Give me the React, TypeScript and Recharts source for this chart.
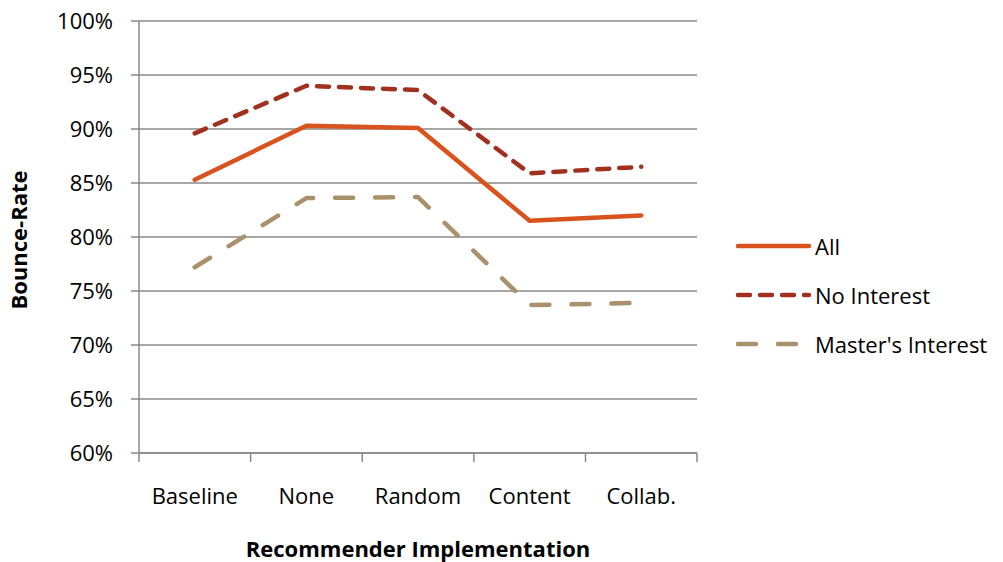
import React from "react";
import {
  LineChart,
  Line,
  XAxis,
  YAxis,
  CartesianGrid,
  Legend,
  Label,
} from "recharts";

const categories = ["Baseline", "None", "Random", "Content", "Collab."];
const allValues = [85.3, 90.3, 90.1, 81.5, 82.0];
const noInterestValues = [89.6, 94.0, 93.6, 85.9, 86.5];
const mastersValues = [77.2, 83.6, 83.7, 73.7, 73.9];
const yTicks = [60, 65, 70, 75, 80, 85, 90, 95, 100];

const data = categories.map((name, i) => ({
  name,
  all: allValues[i],
  noInterest: noInterestValues[i],
  masters: mastersValues[i],
}));

const FONT = "'Open Sans', 'Noto Sans', sans-serif";
const FS = 22;
const AXIS = "#888888";
const TICK_SIZE = 9;
const TICK_MARGIN = 27;
const HALF_BAND = 55.75;

const series = [
  { key: "all", name: "All", color: "#D9531E", dash: undefined },
  { key: "noInterest", name: "No Interest", color: "#A2301F", dash: "12 10" },
  { key: "masters", name: "Master's Interest", color: "#A8916B", dash: "18 22" },
];

function XTick(props: any) {
  const { x, y, payload, index } = props;
  const axisY = y - TICK_SIZE - TICK_MARGIN;
  const last = index === categories.length - 1;
  return (
    <g>
      <line x1={x - HALF_BAND} x2={x - HALF_BAND} y1={axisY} y2={axisY + TICK_SIZE} stroke={AXIS} strokeWidth={1.5} />
      {last && (
        <line x1={x + HALF_BAND} x2={x + HALF_BAND} y1={axisY} y2={axisY + TICK_SIZE} stroke={AXIS} strokeWidth={1.5} />
      )}
      <text x={x} y={y} dy="0.7em" textAnchor="middle" fill="#000" fontSize={FS}>
        {payload.value}
      </text>
    </g>
  );
}

function LegendBox() {
  return (
    <div style={{ fontFamily: FONT, fontSize: FS, color: "#000" }}>
      {series.map((s) => (
        <div key={s.key} style={{ display: "flex", alignItems: "center", height: 49 }}>
          <svg width={76} height={10} style={{ marginLeft: -2 }}>
            <line
              x1={2}
              x2={73}
              y1={5}
              y2={5}
              stroke={s.color}
              strokeWidth={4.5}
              strokeLinecap="round"
              strokeDasharray={s.dash}
            />
          </svg>
          <span style={{ marginLeft: 3 }}>{s.name}</span>
        </div>
      ))}
    </div>
  );
}

export default function App() {
  return (
    <div style={{ position: "absolute", left: 0, top: 0, fontFamily: FONT, background: "#fff" }}>
      <LineChart width={1003} height={562} data={data} margin={{ top: 21, right: 306, left: 0, bottom: 0 }}>
        <CartesianGrid vertical={false} stroke={AXIS} strokeWidth={1.5} />
        <XAxis
          dataKey="name"
          height={109}
          padding={{ left: HALF_BAND, right: HALF_BAND }}
          stroke={AXIS}
          strokeWidth={1.5}
          tickLine={false}
          tickSize={TICK_SIZE}
          tickMargin={TICK_MARGIN}
          tick={<XTick />}
          interval={0}
        >
          <Label
            value="Recommender Implementation"
            position="insideBottom"
            offset={5}
            style={{ fontWeight: "bold", fontSize: FS, fill: "#000" }}
          />
        </XAxis>
        <YAxis
          width={139}
          domain={[60, 100]}
          ticks={yTicks}
          tickFormatter={(v) => `${v}%`}
          stroke={AXIS}
          strokeWidth={1.5}
          tickSize={8}
          tickMargin={18}
          tick={{ fill: "#000", fontSize: FS }}
        >
          <Label
            content={(p: any) => {
              const vb = p.viewBox || { y: 21, height: 432 };
              const cy = vb.y + vb.height / 2 + 3;
              return (
                <text
                  x={18}
                  y={cy}
                  transform={`rotate(-90 18 ${cy})`}
                  textAnchor="middle"
                  dominantBaseline="central"
                  fontWeight="bold"
                  fontSize={FS}
                  fill="#000"
                >
                  Bounce-Rate
                </text>
              );
            }}
          />
        </YAxis>
        <Legend
          layout="vertical"
          align="center"
          verticalAlign="middle"
          content={<LegendBox />}
          wrapperStyle={{ left: 738, top: 221, width: 265 }}
        />
        {series.map((s) => (
          <Line
            key={s.key}
            type="linear"
            dataKey={s.key}
            name={s.name}
            stroke={s.color}
            strokeWidth={4.5}
            strokeDasharray={s.dash}
            strokeLinecap="round"
            strokeLinejoin="round"
            dot={false}
            activeDot={false}
            isAnimationActive={false}
          />
        ))}
      </LineChart>
    </div>
  );
}
